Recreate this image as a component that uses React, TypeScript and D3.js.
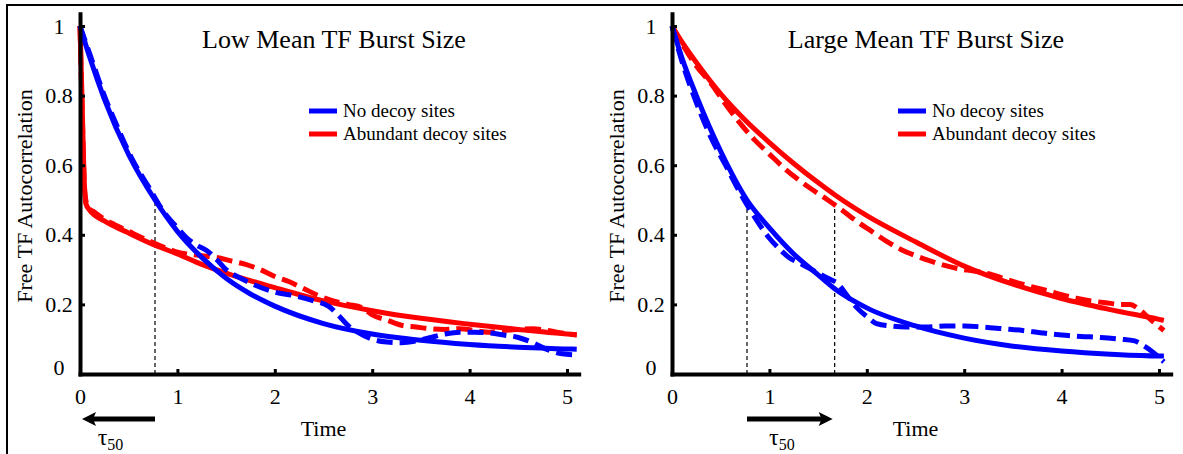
import * as d3 from "d3";
import { useEffect, useRef } from "react";

// time grids and autocorrelation values
// left panel: low mean TF burst size
const lowBlueFitT = [0, 0.1, 0.25, 0.5, 0.77, 1, 1.25, 1.5, 1.75, 2, 2.5, 3, 3.5, 4, 4.5, 5, 5.1];
const lowBlueFit = [1, 0.91, 0.79, 0.63, 0.5, 0.41, 0.335, 0.275, 0.23, 0.195, 0.145, 0.115, 0.097, 0.085, 0.077, 0.072, 0.071];
const lowBlueSimT = [0, 0.1, 0.25, 0.4, 0.55, 0.7, 0.85, 1.0, 1.1, 1.2, 1.3, 1.4, 1.5, 1.65, 1.8, 2.0, 2.2, 2.4, 2.55, 2.65, 2.75, 2.85, 3.0, 3.15, 3.3, 3.45, 3.6, 3.75, 3.9, 4.05, 4.2, 4.35, 4.5, 4.65, 4.8, 4.95, 5.1];
const lowBlueSim = [1, 0.92, 0.8, 0.7, 0.61, 0.54, 0.47, 0.42, 0.39, 0.37, 0.355, 0.33, 0.3, 0.275, 0.255, 0.235, 0.225, 0.21, 0.195, 0.17, 0.14, 0.12, 0.1, 0.092, 0.09, 0.095, 0.105, 0.115, 0.12, 0.12, 0.118, 0.112, 0.105, 0.09, 0.07, 0.058, 0.055];
const lowRedFitT = [0, 0.02, 0.04, 0.06, 0.1, 0.25, 0.5, 0.77, 1, 1.25, 1.5, 2, 2.5, 3, 3.5, 4, 4.5, 5, 5.1];
const lowRedFit = [1, 0.8, 0.58, 0.49, 0.47, 0.44, 0.405, 0.37, 0.345, 0.315, 0.29, 0.248, 0.21, 0.182, 0.16, 0.143, 0.128, 0.115, 0.113];
const lowRedSimT = [0, 0.02, 0.05, 0.08, 0.15, 0.25, 0.35, 0.5, 0.65, 0.77, 0.9, 1.0, 1.1, 1.25, 1.4, 1.55, 1.7, 1.85, 2.0, 2.15, 2.3, 2.45, 2.6, 2.75, 2.9, 3.0, 3.15, 3.3, 3.45, 3.6, 3.75, 3.9, 4.05, 4.2, 4.35, 4.5, 4.65, 4.8, 4.95, 5.1];
const lowRedSim = [1, 0.78, 0.52, 0.48, 0.465, 0.445, 0.43, 0.41, 0.39, 0.375, 0.36, 0.35, 0.345, 0.34, 0.335, 0.325, 0.315, 0.3, 0.28, 0.265, 0.245, 0.225, 0.21, 0.2, 0.19, 0.17, 0.155, 0.14, 0.135, 0.13, 0.128, 0.13, 0.125, 0.12, 0.125, 0.128, 0.13, 0.125, 0.118, 0.112];

// right panel: large mean TF burst size
const largeBlueFitT = [0, 0.1, 0.25, 0.5, 0.77, 1, 1.25, 1.5, 1.67, 2, 2.5, 3, 3.5, 4, 4.5, 5, 5.05];
const largeBlueFit = [1, 0.91, 0.8, 0.64, 0.5, 0.42, 0.345, 0.285, 0.245, 0.19, 0.138, 0.103, 0.08, 0.066, 0.057, 0.052, 0.052];
const largeBlueSimT = [0, 0.1, 0.25, 0.4, 0.55, 0.7, 0.85, 1.0, 1.1, 1.2, 1.3, 1.4, 1.5, 1.6, 1.7, 1.8, 1.9, 2.0, 2.1, 2.25, 2.4, 2.6, 2.8, 3.0, 3.2, 3.4, 3.6, 3.8, 4.0, 4.2, 4.4, 4.6, 4.75, 4.85, 4.95, 5.05];
const largeBlueSim = [1, 0.9, 0.78, 0.68, 0.6, 0.52, 0.45, 0.39, 0.36, 0.335, 0.32, 0.305, 0.29, 0.275, 0.26, 0.225, 0.19, 0.165, 0.145, 0.138, 0.135, 0.135, 0.138, 0.138, 0.135, 0.13, 0.125, 0.118, 0.112, 0.108, 0.105, 0.1, 0.095, 0.08, 0.06, 0.035];
const largeRedFitT = [0, 0.1, 0.25, 0.5, 0.75, 1, 1.25, 1.5, 1.67, 2, 2.5, 3, 3.5, 4, 4.5, 5, 5.05];
const largeRedFit = [1, 0.955, 0.895, 0.805, 0.73, 0.665, 0.605, 0.55, 0.515, 0.455, 0.38, 0.31, 0.258, 0.217, 0.185, 0.157, 0.154];
const largeRedSimT = [0, 0.1, 0.25, 0.4, 0.55, 0.7, 0.85, 1.0, 1.15, 1.3, 1.45, 1.6, 1.75, 1.9, 2.05, 2.2, 2.35, 2.5, 2.65, 2.8, 2.95, 3.1, 3.25, 3.4, 3.55, 3.7, 3.85, 4.0, 4.15, 4.3, 4.45, 4.6, 4.7, 4.8, 4.9, 5.05];
const largeRedSim = [1, 0.95, 0.885, 0.835, 0.775, 0.72, 0.672, 0.632, 0.592, 0.558, 0.528, 0.5, 0.47, 0.438, 0.41, 0.382, 0.358, 0.34, 0.325, 0.312, 0.302, 0.296, 0.288, 0.275, 0.262, 0.25, 0.24, 0.228, 0.218, 0.21, 0.205, 0.2, 0.2, 0.185, 0.16, 0.125];

const xTicks = [0, 1, 2, 3, 4, 5];
const yTicks = [0, 0.2, 0.4, 0.6, 0.8, 1];
const yTickLabels = ["0", "0.2", "0.4", "0.6", "0.8", "1"];
const legendLabels = ["No decoy sites", "Abundant decoy sites"];

const lowTau = [0.77];
const largeTau = [0.77, 1.67];

const BLUE = "#0000ff";
const RED = "#ff0000";
const FONT = "Liberation Serif, Times New Roman, serif";

const zip = (t: number[], v: number[]) => t.map((d, i) => [d, v[i]] as [number, number]);

const panels = [
    {
        left: 80,
        title: "Low Mean TF Burst Size",
        titleX: 334,
        legendX: 309,
        blueFit: zip(lowBlueFitT, lowBlueFit),
        blueSim: zip(lowBlueSimT, lowBlueSim),
        redFit: zip(lowRedFitT, lowRedFit),
        redSim: zip(lowRedSimT, lowRedSim),
        tau: lowTau,
        arrowLeft: true,
    },
    {
        left: 672,
        title: "Large Mean TF Burst Size",
        titleX: 926,
        legendX: 898,
        blueFit: zip(largeBlueFitT, largeBlueFit),
        blueSim: zip(largeBlueSimT, largeBlueSim),
        redFit: zip(largeRedFitT, largeRedFit),
        redSim: zip(largeRedSimT, largeRedSim),
        tau: largeTau,
        arrowLeft: false,
    },
];

export default function App() {
    const svgRef = useRef<SVGSVGElement>(null);
    const width = 1183;
    const height = 454;
    const unitX = 97.4;
    const unitY = 348;
    const baseY = 374;

    useEffect(() => {
        if (svgRef.current) {
            drawChart();
        }
    }, [svgRef]);

    const drawChart = () => {
        const svg = d3.select(svgRef.current);
        svg.selectAll("*").remove();

        // frame lines at top and left
        svg.append("path")
            .attr("d", `M7,${height} V5 H${width}`)
            .attr("fill", "none")
            .attr("stroke", "#000")
            .attr("stroke-width", 2);

        panels.forEach((p) => drawPanel(svg, p));
    };

    const drawPanel = (svg: any, p: any) => {
        const scaleX = d3.scaleLinear().domain([0, 5.12]).range([p.left, p.left + 5.12 * unitX]);
        const scaleY = d3.scaleLinear().domain([0, 1.035]).range([baseY, baseY - 1.035 * unitY]);
        const g = svg.append("g").style("font-family", FONT);

        drawCurves(g, p, scaleX, scaleY);
        drawAxis(g, scaleX, scaleY);
        drawLabels(g, p, scaleX, scaleY);
    };

    const drawCurves = (g: any, p: any, scaleX: any, scaleY: any) => {
        const line = d3
            .line<[number, number]>()
            .x((d) => scaleX(d[0]))
            .y((d) => scaleY(d[1]))
            .curve(d3.curveMonotoneX);

        // tau50 markers
        p.tau.forEach((t: number) => {
            g.append("line")
                .attr("x1", scaleX(t))
                .attr("x2", scaleX(t))
                .attr("y1", scaleY(0))
                .attr("y2", scaleY(0.5))
                .attr("stroke", "#000")
                .attr("stroke-width", 1.2)
                .attr("stroke-dasharray", "4,3");
        });

        const series = [
            { data: p.redSim, color: RED, dash: "16,7" },
            { data: p.redFit, color: RED, dash: null },
            { data: p.blueSim, color: BLUE, dash: "16,7" },
            { data: p.blueFit, color: BLUE, dash: null },
        ];
        series.forEach((s) => {
            g.append("path")
                .datum(s.data)
                .attr("fill", "none")
                .attr("stroke", s.color)
                .attr("stroke-width", 5)
                .attr("stroke-dasharray", s.dash)
                .attr("stroke-linejoin", "round")
                .attr("d", line);
        });
    };

    const styleText = (sel: any, size: number) =>
        sel.style("font-family", FONT).style("font-size", size + "px").attr("fill", "#000");

    const drawAxis = (g: any, scaleX: any, scaleY: any) => {
        // x axis, ticks pointing inward
        const xg = g
            .append("g")
            .attr("transform", `translate(0,${baseY})`)
            .call(
                d3
                    .axisBottom(scaleX)
                    .tickValues(xTicks)
                    .tickSizeInner(-5)
                    .tickSizeOuter(0)
                    .tickPadding(14)
                    .tickFormat((d: any) => `${d}`)
            );
        xg.select(".domain").attr("stroke-width", 4).attr("stroke-linecap", "square");
        xg.selectAll(".tick line").attr("stroke-width", 3);
        styleText(xg.selectAll("text"), 22);

        // y axis
        const yg = g
            .append("g")
            .attr("transform", `translate(${scaleX(0)},0)`)
            .call(
                d3
                    .axisLeft(scaleY)
                    .tickValues(yTicks)
                    .tickSizeInner(-5)
                    .tickSizeOuter(0)
                    .tickFormat((d: any, i: number) => yTickLabels[i])
            );
        yg.select(".domain").attr("stroke-width", 4).attr("stroke-linecap", "square");
        yg.selectAll(".tick line").attr("stroke-width", 3);
        styleText(yg.selectAll("text"), 22)
            .attr("text-anchor", "middle")
            .attr("x", -21)
            .attr("y", (d: number) => (d === 0 ? -7 : 0));
    };

    const drawLabels = (g: any, p: any, scaleX: any, scaleY: any) => {
        styleText(g.append("text"), 26)
            .attr("x", p.titleX)
            .attr("y", 48)
            .attr("text-anchor", "middle")
            .text(p.title);

        // legend
        [BLUE, RED].forEach((c, i) => {
            const ly = 111 + i * 23;
            g.append("line")
                .attr("x1", p.legendX)
                .attr("x2", p.legendX + 28)
                .attr("y1", ly)
                .attr("y2", ly)
                .attr("stroke", c)
                .attr("stroke-width", 5);
            styleText(g.append("text"), 19)
                .attr("x", p.legendX + 34)
                .attr("y", ly + 6)
                .text(legendLabels[i]);
        });

        styleText(g.append("text"), 22)
            .attr("transform", `translate(${scaleX(0) - 48},196) rotate(-90)`)
            .attr("text-anchor", "middle")
            .text("Free TF Autocorrelation");

        styleText(g.append("text"), 22)
            .attr("x", scaleX(2.5))
            .attr("y", 436)
            .attr("text-anchor", "middle")
            .text("Time");

        // tau50 arrow
        const ay = 419;
        let tip: number, tail: number, dir: number;
        if (p.arrowLeft) {
            tip = scaleX(0) + 2;
            tail = scaleX(p.tau[0]);
            dir = 1;
        } else {
            tip = scaleX(p.tau[p.tau.length - 1]) - 2;
            tail = scaleX(p.tau[0]);
            dir = -1;
        }
        g.append("line")
            .attr("x1", tail)
            .attr("x2", tip + dir * 10)
            .attr("y1", ay)
            .attr("y2", ay)
            .attr("stroke", "#000")
            .attr("stroke-width", 5);
        g.append("path")
            .attr(
                "d",
                `M${tip},${ay} L${tip + dir * 14},${ay - 7} L${tip + dir * 11},${ay} L${tip + dir * 14},${ay + 7} Z`
            )
            .attr("fill", "#000");

        const tx = (tail + tip) / 2 - 8;
        const tau = styleText(g.append("text"), 24)
            .attr("x", tx)
            .attr("y", 445)
            .attr("text-anchor", "middle");
        tau.append("tspan").text("τ");
        tau.append("tspan").attr("dy", 5).style("font-size", "16px").text("50");
    };

    return (
        <svg
            ref={svgRef}
            width={width}
            height={height}
            style={{ position: "absolute", left: 0, top: 0, background: "#fff" }}
        />
    );
}
